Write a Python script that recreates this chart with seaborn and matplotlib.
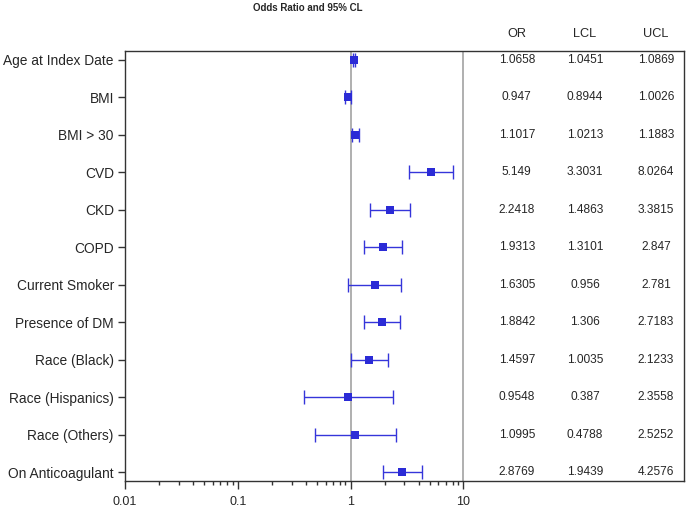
import numpy as np
import pandas as pd
import matplotlib
matplotlib.use('Agg')
import matplotlib.pyplot as plt
import matplotlib.ticker as mticker
import matplotlib.transforms as mtrans
import seaborn as sns

# data
labels = ['Age at Index Date', 'BMI', 'BMI > 30', 'CVD', 'CKD', 'COPD',
          'Current Smoker', 'Presence of DM', 'Race (Black)', 'Race (Hispanics)',
          'Race (Others)', 'On Anticoagulant']
odds = [1.0658, 0.947, 1.1017, 5.149, 2.2418, 1.9313, 1.6305, 1.8842, 1.4597, 0.9548, 1.0995, 2.8769]
lcl = [1.0451, 0.8944, 1.0213, 3.3031, 1.4863, 1.3101, 0.956, 1.306, 1.0035, 0.387, 0.4788, 1.9439]
ucl = [1.0869, 1.0026, 1.1883, 8.0264, 3.3815, 2.847, 2.781, 2.7183, 2.1233, 2.3558, 2.5252, 4.2576]
or_txt = ['1.0658', '0.947', '1.1017', '5.149', '2.2418', '1.9313', '1.6305', '1.8842', '1.4597', '0.9548', '1.0995', '2.8769']
lcl_txt = ['1.0451', '0.8944', '1.0213', '3.3031', '1.4863', '1.3101', '0.956', '1.306', '1.0035', '0.387', '0.4788', '1.9439']
ucl_txt = ['1.0869', '1.0026', '1.1883', '8.0264', '3.3815', '2.847', '2.781', '2.7183', '2.1233', '2.3558', '2.5252', '4.2576']

df = pd.DataFrame({'label': labels, 'OR': odds, 'LCL': lcl, 'UCL': ucl})
df['pos'] = np.arange(len(df))

sns.set_style('ticks')
plt.rcParams['font.family'] = ['Liberation Sans', 'DejaVu Sans']

blue = '#2B2BD6'
fig = plt.figure(figsize=(6.89, 5.08), dpi=100)
ax = fig.add_axes([0.1814, 0.0531, 0.8113, 0.8465])

ax.axvline(1, color='#9a9a9a', lw=1.1, zorder=1)
ax.axvline(10, color='#9a9a9a', lw=1.1, zorder=1)

err = np.array([df['OR'] - df['LCL'], df['UCL'] - df['OR']])
ax.errorbar(df['OR'], df['pos'], xerr=err, fmt='none', ecolor='#3535DA',
            elinewidth=1.0, capsize=5, capthick=1.0, zorder=2)
sns.scatterplot(data=df, x='OR', y='pos', marker='s', s=34, color=blue,
                edgecolor=blue, linewidth=0, ax=ax, zorder=3, legend=False)

ax.set_xscale('log')
ax.set_xlim(0.01, 900)
ax.set_ylim(11.24, -0.24)
ax.set_xticks([0.01, 0.1, 1, 10])
ax.xaxis.set_major_formatter(mticker.FixedFormatter(['0.01', '0.1', '1', '10']))
minors = [m * 10.0 ** e for e in (-2, -1, 0) for m in range(2, 10)]
ax.xaxis.set_minor_locator(mticker.FixedLocator(minors))
ax.xaxis.set_minor_formatter(mticker.NullFormatter())
ax.set_yticks(df['pos'])
ax.set_yticklabels(df['label'])
ax.tick_params(axis='x', which='major', length=6, width=1, labelsize=9, pad=5, color='#333333')
ax.tick_params(axis='x', which='minor', length=3, width=1, color='#333333')
ax.tick_params(axis='y', length=5, width=1, labelsize=9.9, pad=3, color='#333333')
ax.set_xlabel('')
ax.set_ylabel('')
for s in ax.spines.values():
    s.set_color('#333333')
    s.set_linewidth(1)

# table columns
cols = [(0.701, 'OR', or_txt), (0.823, 'LCL', lcl_txt), (0.950, 'UCL', ucl_txt)]
trans = mtrans.blended_transform_factory(ax.transAxes, ax.transData)
for xf, head, vals in cols:
    ax.text(xf, 1.0395, head, transform=ax.transAxes, ha='center', va='center', fontsize=9.2)
    for p, v in zip(df['pos'], vals):
        ax.text(xf, p, v, transform=trans, ha='center', va='center', fontsize=8.6)

fig.text(0.447, 1 - 8 / 508, 'Odds Ratio and 95% CL', ha='center', va='center',
         fontsize=7, fontweight='bold')

fig.savefig('out.png', dpi=100)
